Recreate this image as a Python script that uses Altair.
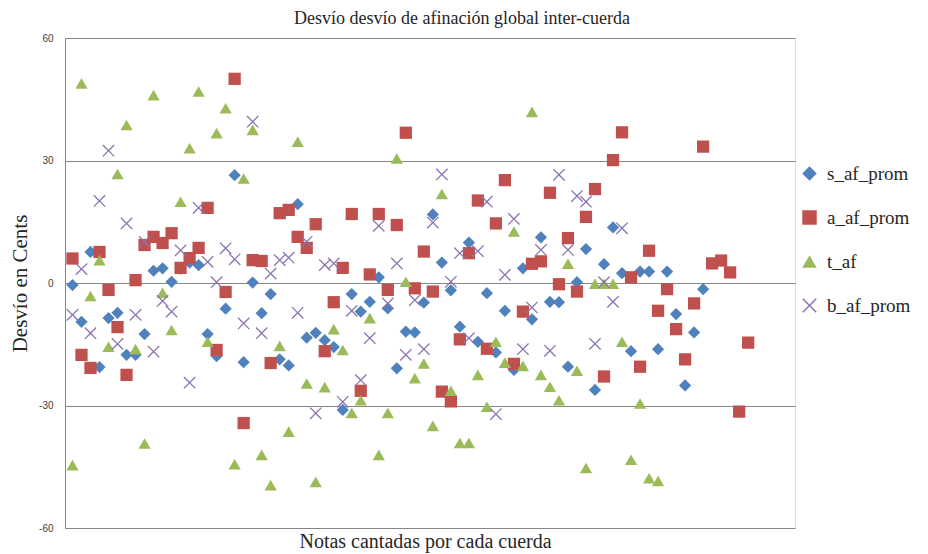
import altair as alt
import pandas as pd

series_names = ["s_af_prom", "a_af_prom", "t_af", "b_af_prom"]

s_af_prom = [-0.5, -9.5, 7.6, -20.6, -8.6, -7.3, -17.6, -17.6, -12.5, 3.0,
             3.6, 0.3, 3.5, 5.0, 4.4, -12.5, -17.9, -6.3, 26.4, -19.4,
             0.1, -7.4, -2.7, -18.7, -20.2, 19.3, -13.4, -12.2, -14.0, -15.7,
             -31.1, -2.7, -7.0, -4.6, 1.4, -6.2, -20.9, -11.9, -12.1, -4.8,
             16.8, 5.0, -1.8, -10.7, 9.9, -14.4, -2.5, -17.0, -6.8, -21.3,
             3.6, -8.9, 11.2, -4.6, -4.7, -20.5, 0.2, 8.3, -26.2, 4.6,
             13.6, 2.4, -16.7, 2.8, 2.8, -16.2, 2.8, -7.6, -25.1, -12.1,
             -1.5]

a_af_prom = [6.0, -17.6, -20.8, 7.6, -1.7, -10.8, -22.5, 0.7, 9.3, 11.3,
             9.8, 12.2, 3.7, 6.1, 8.6, 18.4, -16.4, -2.2, 50.0, -34.3,
             5.6, 5.4, -19.6, 17.1, 17.9, 11.3, 8.6, 14.4, -16.7, -4.7,
             3.7, 16.9, -26.4, 2.1, 16.9, -1.7, 14.2, 36.8, -1.3, 7.7,
             -2.1, -26.6, -29.0, -13.8, 7.3, 20.2, -16.1, 14.6, 25.2, -19.8,
             -7.0, 4.7, 5.3, 22.1, -0.3, 11.0, -2.1, 16.2, 23.0, -22.9,
             30.1, 36.9, 1.4, -20.5, 7.9, -6.8, -1.5, -11.3, -18.7, -5.0,
             33.4, 4.8, 5.5, 2.6, -31.5, -14.6]

t_af = [-44.6, 48.9, -3.2, 5.6, -15.6, 26.7, 38.7, -16.2, -39.3, 46.0,
        -2.4, -11.5, 19.9, 33.0, 46.9, -14.4, 36.7, 42.8, -44.4, 25.6,
        37.5, -42.1, -49.5, -15.4, -36.4, 34.6, -24.6, -48.7, -25.5, -11.3,
        -16.4, -31.8, -28.7, -8.6, -42.1, -31.8, 30.5, 0.3, -23.3, -19.7,
        -35.0, 21.8, -26.4, -39.2, -39.2, -22.5, -30.3, -14.4, -19.5, 12.6,
        -20.3, 41.9, -22.5, -25.4, -28.7, 4.7, -21.5, -45.3, -0.2, -0.2,
        -0.2, -14.4, -43.3, -29.5, -47.8, -48.5]

b_af_prom = [-7.8, 3.4, -12.3, 20.1, 32.4, -14.9, 14.6, -7.8, 10.1, -16.8,
             -4.4, -7.0, 8.0, -24.4, 18.4, 5.2, 0.2, 8.5, 5.8, -9.9,
             39.5, -12.3, 2.3, 5.6, 6.2, -7.3, 10.1, -31.9, 4.4, 4.8,
             -29.1, -6.8, -23.8, -13.5, 14.0, -5.0, 4.8, -17.6, -4.2, -16.2,
             14.8, 26.6, 0.3, 7.3, -13.5, 7.8, 19.9, -32.1, 2.0, 15.7,
             -16.2, -6.0, 8.1, -16.6, 26.5, 8.1, 21.3, 19.9, -14.9, 0.2,
             -4.6, 13.4]

y_ticks = [-60, -30, 0, 30, 60]

rows = []
for name, vals in zip(series_names, [s_af_prom, a_af_prom, t_af, b_af_prom]):
    for i, v in enumerate(vals, start=1):
        rows.append({"nota": i, "desvio": v, "serie": name})
df = pd.DataFrame(rows)

x_path = ("M-1,-0.85L-0.85,-1L0,-0.15L0.85,-1L1,-0.85L0.15,0L1,0.85L0.85,1"
          "L0,0.15L-0.85,1L-1,0.85L-0.15,0Z")
colors = ["#4F81BD", "#C0504D", "#9BBB59", "#8B74B0"]
shapes = ["diamond", "square", "triangle-up", x_path]

serif = "Liberation Serif"
text_color = "#262626"

legend = alt.Legend(
    title=None, orient="none", legendX=735, legendY=126,
    labelFont=serif, labelFontSize=19, labelColor=text_color,
    symbolSize=210, symbolStrokeWidth=0, rowPadding=24, labelOffset=8,
)

chart = alt.Chart(df).mark_point(
    filled=True, size=150, opacity=1, strokeWidth=0
).encode(
    x=alt.X("nota:Q",
            scale=alt.Scale(domain=[0.17, 81.2], nice=False, zero=False),
            axis=alt.Axis(title="Notas cantadas por cada cuerda", labels=False,
                          ticks=False, domain=False, grid=False,
                          titleX=360, titleY=13, titleBaseline="middle",
                          titleFont=serif, titleFontSize=20,
                          titleFontWeight="normal", titleColor=text_color)),
    y=alt.Y("desvio:Q",
            scale=alt.Scale(domain=[-60, 60], nice=False),
            axis=alt.Axis(values=y_ticks, title="Desvío en Cents",
                          labelExpr="'' + datum.value",
                          labelFont="Liberation Sans", labelFontSize=10,
                          labelColor="#404040", labelPadding=12,
                          ticks=False, domain=True, domainColor="#868686",
                          gridColor="#868686", gridWidth=1,
                          titleX=-45, titleY=245, titleAngle=-90,
                          titleBaseline="middle", titleAlign="center",
                          titleFont=serif, titleFontSize=21,
                          titleFontWeight="normal", titleColor=text_color)),
    color=alt.Color("serie:N", scale=alt.Scale(domain=series_names, range=colors),
                    legend=legend),
    shape=alt.Shape("serie:N", scale=alt.Scale(domain=series_names, range=shapes),
                    legend=legend),
).properties(
    width=730, height=490,
    autosize=alt.AutoSizeParams(type="none"),
    padding={"left": 57, "top": 30, "right": 125, "bottom": 30},
    title=alt.TitleParams("Desvío desvío de afinación global inter-cuerda",
                          font=serif, fontSize=18, fontWeight="normal",
                          color=text_color, anchor="middle", dx=32, dy=12,
                          baseline="middle", offset=8),
).configure_view(stroke=None).configure(background="white")

chart.save("out.html", embed_options={"renderer": "svg", "actions": False})
